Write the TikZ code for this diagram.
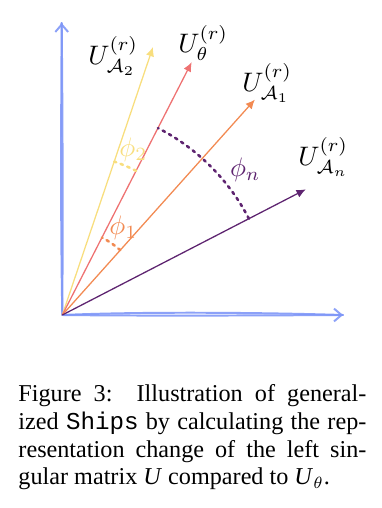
\documentclass[tikz,border=0pt]{standalone}
\usepackage{amsmath,amssymb}
\usepackage{fontspec}
\setmainfont{Liberation Serif}
\setmonofont{Liberation Mono}
\usepackage{xcolor}
\usepackage{tikz}
\usetikzlibrary{arrows.meta,positioning,calc}
\definecolor{axblue}{HTML}{7F97F7}
\definecolor{ayellow}{HTML}{F8DE7E}
\definecolor{tred}{HTML}{EE7272}
\definecolor{aorange}{HTML}{F28A52}
\definecolor{npurple}{HTML}{5E2470}
\newlength{\capw}
\setlength{\capw}{149.6pt}

\begin{document}
\begin{tikzpicture}[x=0.43pt,y=0.43pt,
  axis/.style={axblue, line width=0.85pt, line cap=round, opacity=0.9},
  vec/.style={line width=0.55pt, -{Latex[length=4pt,width=3.6pt]}},
  angarc/.style={line width=1.1pt, dotted, line cap=round},
  lab/.style={inner sep=0pt, scale=1.15}]
\useasboundingbox (-62.3,-193) rectangle (319.7,315);
% hand-drawn axes
\coordinate (O) at (0,0);
\coordinate (ytop) at (-0.6,292);
\coordinate (xend) at (280.7,0);
\draw[axis] (O) .. controls (-1.8,100) and (-1.2,200) .. (ytop);
\draw[axis] (O) .. controls (0.6,90) and (0.4,190) .. (ytop);
\draw[axis] (O) .. controls (80,3.5) and (200,2.5) .. (xend);
\draw[axis] (O) .. controls (90,-1) and (190,-0.5) .. (xend);
\draw[axis, -{Straight Barb[length=3.2pt,width=5.5pt]}] ($(ytop)+(0,-2)$) -- (ytop);
\draw[axis, -{Straight Barb[length=3.2pt,width=5.5pt]}] ($(xend)+(-2,0)$) -- (xend);
% vectors
\coordinate (ua2) at (71.3:283);
\coordinate (uth) at (62.9:284);
\coordinate (ua1) at (48.2:289);
\coordinate (uan) at (27.3:274);
\draw[vec, ayellow] (O) -- (ua2);
\draw[vec, tred] (O) -- (uth);
\draw[vec, aorange] (O) -- (ua1);
\draw[vec, npurple] (O) -- (uan);
\node[lab] (la2) at (51,259) {$U_{\mathcal{A}_2}^{(r)}$};
\node[lab] (lth) at (141,272) {$U_{\theta}^{(r)}$};
\node[lab] (la1) at (205,232) {$U_{\mathcal{A}_1}^{(r)}$};
\node[lab] (lan) at (261,158) {$U_{\mathcal{A}_n}^{(r)}$};
% angles
\draw[angarc, npurple] (27.3:210) arc[start angle=27.3, end angle=62.9, radius=210];
\draw[angarc, aorange] (48.2:87) arc[start angle=48.2, end angle=62.9, radius=87];
\draw[angarc, ayellow] (62.9:162) arc[start angle=62.9, end angle=71.3, radius=162];
\node[lab, ayellow] (p2) at (71,165) {$\phi_2$};
\node[lab, aorange] (p1) at (61,87) {$\phi_1$};
\node[lab, npurple] (pn) at (183,145) {$\phi_n$};
% caption
\node[anchor=north west, align=left, inner sep=0pt, font=\fontsize{10.4}{11.95}\selectfont] (cap) at (-44.3,-69)
  {\makebox[\capw][s]{Figure 3:\ \ Illustration of general-}\\
   \makebox[\capw][s]{ized \texttt{Ships} by calculating the rep-}\\
   \makebox[\capw][s]{resentation change of the left sin-}\\
   gular matrix \textit{U} compared to \textit{U}$_\theta$.};
\end{tikzpicture}
\end{document}
